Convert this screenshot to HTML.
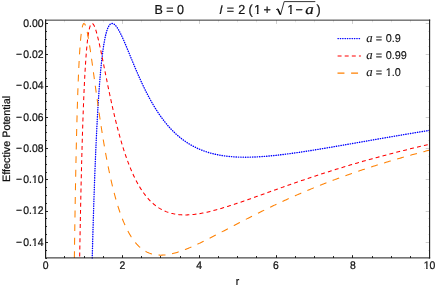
<!DOCTYPE html>
<html><head><meta charset="utf-8"><title>Effective Potential</title>
<style>html,body{margin:0;padding:0;background:#fff}body{width:436px;height:289px;overflow:hidden;font-family:"Liberation Sans",sans-serif}svg{display:block}</style></head>
<body>
<svg width="436" height="289" viewBox="0 0 436 289">
<defs><filter id="gs" x="0" y="0" width="436" height="289" filterUnits="userSpaceOnUse" color-interpolation-filters="sRGB"><feColorMatrix type="matrix" values="1 0 0 0 0 0 1 0 0 0 0 0 1 0 0 0 0 0 1 0"/></filter></defs>
<rect width="436" height="289" fill="#fff"/>
<g fill="none" stroke-linejoin="round">
<path d="M92.23,258.00L92.28,256.15L92.33,254.17L92.38,252.20L92.43,250.24L92.48,248.30L92.54,246.38L92.59,244.46L92.64,242.57L92.69,240.68L92.74,238.81L92.79,236.96L92.85,235.12L92.90,233.29L92.95,231.47L93.00,229.67L93.05,227.88L93.11,226.11L93.16,224.34L93.21,222.60L93.26,220.86L93.31,219.14L93.37,217.43L93.42,215.73L93.47,214.04L93.52,212.37L93.57,210.71L93.62,209.06L93.68,207.43L93.73,205.80L93.78,204.19L93.83,202.59L93.88,201.01L93.94,199.43L93.99,197.87L94.04,196.31L94.09,194.77L94.14,193.25L94.19,191.73L94.25,190.22L94.30,188.73L94.35,187.24L94.40,185.77L94.45,184.31L94.51,182.86L94.56,181.42L94.61,179.99L94.66,178.57L94.71,177.16L94.77,175.77L94.82,174.38L94.87,173.00L94.92,171.64L94.97,170.28L95.02,168.94L95.08,167.60L95.13,166.28L95.18,164.96L95.23,163.66L95.28,162.36L95.34,161.08L95.39,159.80L95.44,158.53L95.49,157.28L95.54,156.03L95.59,154.79L95.65,153.57L95.70,152.35L95.75,151.14L95.80,149.94L95.85,148.75L95.91,147.57L95.96,146.39L96.01,145.23L96.06,144.07L96.11,142.93L96.17,141.79L96.22,140.66L96.27,139.54L96.32,138.43L96.37,137.33L96.42,136.23L96.48,135.15L96.53,134.07L96.58,133.00L96.63,131.94L96.68,130.89L96.74,129.84L96.79,128.81L96.84,127.78L96.89,126.76L96.94,125.74L96.99,124.74L97.07,123.25L97.15,121.77L97.23,120.31L97.31,118.87L97.38,117.45L97.46,116.04L97.54,114.65L97.62,113.28L97.69,111.92L97.77,110.58L97.85,109.25L97.93,107.94L98.01,106.65L98.08,105.37L98.16,104.10L98.24,102.85L98.32,101.62L98.39,100.40L98.47,99.20L98.55,98.01L98.63,96.83L98.71,95.67L98.78,94.52L98.86,93.39L98.94,92.27L99.02,91.16L99.09,90.07L99.17,88.99L99.25,87.93L99.33,86.87L99.41,85.83L99.48,84.81L99.56,83.79L99.64,82.79L99.74,81.47L99.85,80.18L99.95,78.91L100.05,77.65L100.16,76.42L100.26,75.21L100.37,74.02L100.47,72.86L100.57,71.71L100.68,70.58L100.78,69.47L100.88,68.38L100.99,67.30L101.09,66.25L101.20,65.21L101.30,64.20L101.40,63.20L101.53,61.97L101.66,60.78L101.79,59.61L101.92,58.46L102.05,57.34L102.18,56.25L102.31,55.18L102.44,54.14L102.57,53.12L102.70,52.12L102.85,50.96L103.01,49.83L103.17,48.73L103.32,47.66L103.48,46.63L103.63,45.62L103.81,44.49L104.00,43.39L104.18,42.33L104.36,41.32L104.57,40.20L104.77,39.12L104.98,38.10L105.19,37.12L105.42,36.06L105.65,35.06L105.91,34.02L106.17,33.03L106.46,32.01L106.77,30.98L107.11,29.95L107.47,28.95L107.86,27.98L108.27,27.07L108.74,26.19L109.28,25.33L109.93,24.54L110.71,23.89L111.64,23.50L112.65,23.51L113.61,23.87L114.44,24.44L115.20,25.13L115.87,25.88L116.49,26.66L117.09,27.50L117.66,28.36L118.20,29.24L118.72,30.13L119.21,31.01L119.71,31.93L120.17,32.83L120.64,33.75L121.11,34.70L121.55,35.62L121.99,36.55L122.43,37.51L122.84,38.42L123.26,39.34L123.67,40.28L124.09,41.22L124.50,42.18L124.92,43.14L125.33,44.11L125.75,45.09L126.14,46.02L126.53,46.94L126.91,47.88L127.30,48.81L127.69,49.75L128.08,50.69L128.47,51.64L128.86,52.58L129.25,53.53L129.64,54.48L130.03,55.42L130.41,56.37L130.80,57.32L131.19,58.27L131.58,59.21L131.97,60.15L132.36,61.10L132.75,62.04L133.14,62.97L133.53,63.91L133.91,64.84L134.30,65.77L134.69,66.70L135.08,67.62L135.50,68.60L135.91,69.57L136.33,70.55L136.74,71.51L137.16,72.47L137.57,73.43L137.98,74.38L138.40,75.32L138.81,76.26L139.23,77.20L139.64,78.13L140.06,79.05L140.47,79.96L140.91,80.93L141.36,81.89L141.80,82.84L142.24,83.79L142.68,84.72L143.12,85.65L143.56,86.57L144.00,87.49L144.44,88.40L144.88,89.29L145.35,90.24L145.81,91.17L146.28,92.10L146.75,93.02L147.21,93.92L147.68,94.82L148.15,95.71L148.64,96.64L149.13,97.56L149.63,98.47L150.12,99.37L150.61,100.26L151.10,101.14L151.60,102.01L152.11,102.92L152.63,103.82L153.15,104.70L153.67,105.57L154.19,106.44L154.73,107.33L155.28,108.21L155.82,109.08L156.37,109.94L156.91,110.79L157.48,111.67L158.05,112.53L158.62,113.38L159.19,114.22L159.76,115.05L160.36,115.90L161.07,116.89L161.74,117.82L162.41,118.73L163.09,119.63L163.76,120.50L164.43,121.37L165.10,122.21L165.78,123.05L166.45,123.86L167.12,124.67L167.79,125.45L168.46,126.23L169.14,126.99L169.81,127.73L170.62,128.61L171.42,129.46L172.23,130.30L173.04,131.11L173.84,131.91L174.65,132.69L175.46,133.45L176.26,134.20L177.07,134.92L177.88,135.63L178.68,136.32L179.49,137.00L180.30,137.66L181.10,138.30L181.91,138.93L182.72,139.54L183.52,140.14L184.47,140.81L185.41,141.47L186.35,142.11L187.29,142.73L188.23,143.33L189.17,143.91L190.11,144.48L191.06,145.03L192.00,145.56L192.94,146.07L193.88,146.57L194.82,147.05L195.76,147.52L196.70,147.97L197.64,148.41L198.59,148.83L199.53,149.24L200.47,149.64L201.41,150.02L202.35,150.39L203.29,150.74L204.23,151.08L205.31,151.46L206.38,151.82L207.46,152.17L208.54,152.50L209.61,152.82L210.69,153.12L211.76,153.41L212.84,153.68L213.91,153.95L214.99,154.20L216.07,154.43L217.14,154.66L218.22,154.87L219.29,155.08L220.37,155.27L221.44,155.45L222.52,155.62L223.60,155.78L224.67,155.93L225.75,156.07L226.82,156.20L227.90,156.32L228.97,156.43L230.05,156.54L231.13,156.63L232.20,156.72L233.28,156.80L234.35,156.87L235.43,156.93L236.51,156.99L237.58,157.04L238.66,157.08L239.73,157.11L240.81,157.14L241.88,157.16L242.96,157.18L244.04,157.19L245.11,157.19L246.19,157.19L247.26,157.18L248.34,157.17L249.41,157.15L250.49,157.12L251.57,157.10L252.64,157.06L253.72,157.02L254.79,156.98L255.87,156.93L256.94,156.88L258.02,156.82L259.10,156.76L260.17,156.69L261.25,156.62L262.32,156.55L263.40,156.47L264.47,156.39L265.55,156.31L266.63,156.22L267.70,156.13L268.78,156.03L269.85,155.93L270.93,155.83L272.00,155.73L273.08,155.62L274.16,155.51L275.23,155.40L276.31,155.28L277.38,155.17L278.46,155.05L279.53,154.92L280.61,154.80L281.69,154.67L282.76,154.54L283.84,154.41L284.91,154.27L285.99,154.14L287.06,154.00L288.14,153.86L289.22,153.72L290.29,153.57L291.37,153.43L292.44,153.28L293.52,153.13L294.59,152.98L295.67,152.83L296.75,152.67L297.82,152.52L298.90,152.36L299.97,152.20L301.05,152.04L302.13,151.88L303.20,151.72L304.28,151.56L305.35,151.39L306.43,151.23L307.50,151.06L308.58,150.89L309.66,150.73L310.73,150.56L311.81,150.39L312.88,150.21L313.96,150.04L315.03,149.87L316.11,149.69L317.19,149.52L318.26,149.34L319.34,149.17L320.41,148.99L321.49,148.81L322.56,148.63L323.64,148.45L324.72,148.27L325.79,148.09L326.87,147.91L327.94,147.73L329.02,147.55L330.09,147.37L331.17,147.18L332.25,147.00L333.32,146.82L334.40,146.63L335.47,146.45L336.55,146.26L337.62,146.08L338.70,145.89L339.78,145.71L340.85,145.52L341.93,145.34L343.00,145.15L344.08,144.96L345.15,144.78L346.23,144.59L347.31,144.40L348.38,144.22L349.46,144.03L350.53,143.84L351.61,143.65L352.68,143.46L353.76,143.28L354.84,143.09L355.91,142.90L356.99,142.71L358.06,142.52L359.14,142.34L360.21,142.15L361.29,141.96L362.37,141.77L363.44,141.58L364.52,141.40L365.59,141.21L366.67,141.02L367.75,140.83L368.82,140.64L369.90,140.46L370.97,140.27L372.05,140.08L373.12,139.89L374.20,139.71L375.28,139.52L376.35,139.33L377.43,139.14L378.50,138.96L379.58,138.77L380.65,138.58L381.73,138.40L382.81,138.21L383.88,138.02L384.96,137.84L386.03,137.65L387.11,137.47L388.18,137.28L389.26,137.10L390.34,136.91L391.41,136.73L392.49,136.54L393.56,136.36L394.64,136.18L395.71,135.99L396.79,135.81L397.87,135.63L398.94,135.44L400.02,135.26L401.09,135.08L402.17,134.90L403.24,134.71L404.32,134.53L405.40,134.35L406.47,134.17L407.55,133.99L408.62,133.81L409.70,133.63L410.77,133.45L411.85,133.27L412.93,133.09L414.00,132.91L415.08,132.73L416.15,132.55L417.23,132.38L418.30,132.20L419.38,132.02L420.46,131.84L421.53,131.67L422.61,131.49L423.68,131.31L424.76,131.14L425.83,130.96L426.91,130.79L427.99,130.61L429.06,130.44L429.60,130.35" stroke="#0000ff" stroke-width="1.38" stroke-dasharray="0.35 2.0" stroke-dashoffset="0" stroke-linecap="round"/>
<path d="M79.65,258.00L79.68,256.38L79.70,254.87L79.73,253.38L79.75,251.89L79.78,250.42L79.81,248.94L79.83,247.48L79.86,246.03L79.88,244.58L79.91,243.14L79.94,241.71L79.96,240.29L79.99,238.87L80.01,237.46L80.04,236.06L80.06,234.67L80.09,233.28L80.12,231.90L80.14,230.53L80.17,229.17L80.19,227.81L80.22,226.47L80.25,225.12L80.27,223.79L80.30,222.46L80.32,221.14L80.35,219.83L80.38,218.53L80.40,217.23L80.43,215.94L80.45,214.65L80.48,213.38L80.51,212.11L80.53,210.84L80.56,209.59L80.58,208.34L80.61,207.09L80.64,205.86L80.66,204.63L80.69,203.41L80.71,202.19L80.74,200.98L80.76,199.78L80.79,198.58L80.82,197.39L80.84,196.21L80.87,195.03L80.89,193.86L80.92,192.70L80.95,191.54L80.97,190.39L81.00,189.25L81.02,188.11L81.05,186.98L81.08,185.85L81.10,184.73L81.13,183.62L81.15,182.51L81.18,181.41L81.21,180.32L81.23,179.23L81.26,178.15L81.28,177.07L81.31,176.00L81.34,174.93L81.36,173.87L81.39,172.82L81.41,171.77L81.44,170.73L81.46,169.70L81.49,168.67L81.52,167.64L81.54,166.63L81.57,165.61L81.59,164.61L81.62,163.60L81.67,161.62L81.72,159.66L81.78,157.71L81.83,155.79L81.88,153.90L81.93,152.02L81.98,150.16L82.04,148.33L82.09,146.51L82.14,144.72L82.19,142.95L82.24,141.19L82.29,139.46L82.35,137.75L82.40,136.05L82.45,134.38L82.50,132.72L82.55,131.09L82.61,129.47L82.66,127.87L82.71,126.29L82.76,124.73L82.81,123.18L82.86,121.66L82.92,120.15L82.97,118.66L83.02,117.19L83.07,115.73L83.12,114.29L83.18,112.87L83.23,111.46L83.28,110.08L83.33,108.70L83.38,107.35L83.44,106.01L83.49,104.68L83.54,103.38L83.59,102.08L83.64,100.81L83.69,99.55L83.75,98.30L83.80,97.07L83.85,95.85L83.90,94.65L83.95,93.46L84.01,92.29L84.06,91.14L84.11,89.99L84.16,88.86L84.21,87.75L84.27,86.65L84.32,85.56L84.37,84.48L84.42,83.42L84.47,82.38L84.52,81.34L84.58,80.32L84.63,79.31L84.71,77.82L84.78,76.36L84.86,74.93L84.94,73.53L85.02,72.15L85.09,70.80L85.17,69.48L85.25,68.18L85.33,66.91L85.41,65.66L85.48,64.44L85.56,63.24L85.64,62.07L85.72,60.92L85.79,59.80L85.87,58.70L85.95,57.62L86.03,56.56L86.11,55.53L86.18,54.52L86.29,53.20L86.39,51.93L86.49,50.69L86.60,49.48L86.70,48.32L86.81,47.18L86.91,46.09L87.01,45.02L87.12,43.99L87.22,42.99L87.35,41.79L87.48,40.63L87.61,39.52L87.74,38.46L87.87,37.45L88.02,36.29L88.18,35.19L88.34,34.15L88.52,33.01L88.70,31.95L88.88,30.96L89.09,29.92L89.32,28.86L89.58,27.81L89.87,26.80L90.20,25.80L90.62,24.83L91.16,23.97L92.04,23.45L92.95,23.89L93.57,24.69L94.07,25.56L94.51,26.51L94.89,27.47L95.26,28.45L95.59,29.44L95.91,30.41L96.22,31.44L96.50,32.42L96.79,33.44L97.07,34.50L97.33,35.49L97.59,36.51L97.85,37.55L98.11,38.61L98.34,39.59L98.58,40.58L98.81,41.59L99.04,42.61L99.28,43.65L99.51,44.70L99.74,45.76L99.98,46.84L100.21,47.92L100.44,49.01L100.65,49.99L100.86,50.98L101.07,51.97L101.27,52.97L101.48,53.97L101.69,54.97L101.90,55.99L102.10,57.00L102.31,58.02L102.52,59.04L102.72,60.07L102.93,61.09L103.14,62.12L103.35,63.15L103.55,64.19L103.76,65.22L103.97,66.25L104.18,67.29L104.38,68.33L104.59,69.36L104.80,70.40L105.01,71.43L105.21,72.47L105.42,73.50L105.63,74.54L105.84,75.57L106.04,76.60L106.25,77.63L106.46,78.66L106.67,79.68L106.87,80.70L107.08,81.73L107.29,82.74L107.50,83.76L107.70,84.77L107.91,85.79L108.12,86.79L108.32,87.80L108.53,88.80L108.74,89.80L108.95,90.79L109.15,91.78L109.36,92.77L109.57,93.76L109.78,94.74L110.01,95.83L110.24,96.93L110.48,98.02L110.71,99.10L110.94,100.18L111.18,101.25L111.41,102.31L111.64,103.37L111.88,104.43L112.11,105.48L112.34,106.52L112.58,107.56L112.81,108.59L113.04,109.62L113.28,110.64L113.51,111.65L113.74,112.66L113.98,113.66L114.21,114.65L114.44,115.64L114.68,116.62L114.91,117.60L115.17,118.67L115.43,119.74L115.69,120.80L115.95,121.85L116.21,122.90L116.47,123.93L116.72,124.96L116.98,125.98L117.24,127.00L117.50,128.00L117.76,129.00L118.02,129.98L118.28,130.96L118.54,131.94L118.83,133.00L119.11,134.05L119.40,135.09L119.68,136.12L119.97,137.14L120.25,138.15L120.54,139.15L120.82,140.14L121.11,141.12L121.39,142.10L121.68,143.06L121.99,144.10L122.30,145.13L122.61,146.15L122.92,147.16L123.23,148.15L123.54,149.14L123.85,150.11L124.17,151.07L124.48,152.02L124.81,153.04L125.15,154.05L125.49,155.05L125.83,156.03L126.16,157.00L126.50,157.96L126.84,158.90L127.20,159.91L127.56,160.90L127.93,161.88L128.29,162.84L128.65,163.79L129.01,164.73L129.40,165.72L129.79,166.70L130.18,167.66L130.57,168.60L130.96,169.53L131.37,170.51L131.79,171.48L132.20,172.42L132.62,173.35L133.03,174.27L133.47,175.22L133.91,176.16L134.35,177.08L134.80,177.99L135.26,178.93L135.73,179.85L136.20,180.76L136.66,181.64L137.16,182.56L137.65,183.46L138.14,184.34L138.66,185.25L139.18,186.13L139.70,187.00L140.24,187.89L140.78,188.76L141.33,189.61L141.90,190.47L142.47,191.32L143.04,192.14L143.64,192.98L144.23,193.79L144.86,194.62L145.48,195.43L146.13,196.24L146.77,197.03L147.42,197.79L148.10,198.56L148.77,199.31L149.47,200.06L150.17,200.78L150.90,201.51L151.62,202.21L152.37,202.90L153.13,203.57L153.90,204.24L154.68,204.88L155.49,205.51L156.29,206.12L157.12,206.72L157.95,207.29L158.80,207.85L159.66,208.38L160.54,208.90L161.47,209.42L162.41,209.92L163.35,210.39L164.30,210.83L165.24,211.24L166.18,211.63L167.12,211.99L168.20,212.37L169.27,212.72L170.35,213.04L171.42,213.33L172.50,213.59L173.57,213.83L174.65,214.04L175.73,214.23L176.80,214.39L177.88,214.53L178.95,214.65L180.03,214.75L181.10,214.82L182.18,214.88L183.26,214.92L184.33,214.94L185.41,214.94L186.48,214.92L187.56,214.89L188.63,214.85L189.71,214.79L190.79,214.71L191.86,214.62L192.94,214.52L194.01,214.40L195.09,214.27L196.16,214.13L197.24,213.98L198.32,213.82L199.39,213.64L200.47,213.46L201.54,213.27L202.62,213.06L203.70,212.85L204.77,212.63L205.85,212.40L206.92,212.17L208.00,211.92L209.07,211.67L210.15,211.41L211.23,211.15L212.30,210.88L213.38,210.60L214.45,210.31L215.53,210.03L216.60,209.73L217.68,209.43L218.76,209.13L219.83,208.82L220.91,208.50L221.98,208.18L223.06,207.86L224.13,207.53L225.21,207.20L226.29,206.87L227.36,206.53L228.44,206.19L229.51,205.85L230.59,205.50L231.66,205.15L232.74,204.80L233.82,204.44L234.89,204.08L235.97,203.72L237.04,203.36L238.12,203.00L239.19,202.63L240.27,202.26L241.35,201.89L242.42,201.52L243.50,201.15L244.57,200.78L245.65,200.40L246.72,200.03L247.80,199.65L248.88,199.27L249.95,198.89L251.03,198.51L252.10,198.13L253.18,197.75L254.25,197.36L255.33,196.98L256.41,196.60L257.48,196.21L258.56,195.83L259.63,195.44L260.71,195.06L261.78,194.67L262.86,194.29L263.94,193.90L265.01,193.52L266.09,193.13L267.16,192.74L268.24,192.36L269.32,191.97L270.39,191.59L271.47,191.20L272.54,190.82L273.62,190.43L274.69,190.05L275.77,189.66L276.85,189.28L277.92,188.90L279.00,188.51L280.07,188.13L281.15,187.75L282.22,187.37L283.30,186.99L284.38,186.61L285.45,186.23L286.53,185.85L287.60,185.47L288.68,185.09L289.75,184.72L290.83,184.34L291.91,183.97L292.98,183.59L294.06,183.22L295.13,182.84L296.21,182.47L297.28,182.10L298.36,181.73L299.44,181.36L300.51,180.99L301.59,180.62L302.66,180.26L303.74,179.89L304.81,179.52L305.89,179.16L306.97,178.80L308.04,178.43L309.12,178.07L310.19,177.71L311.27,177.35L312.34,176.99L313.42,176.64L314.50,176.28L315.57,175.92L316.65,175.57L317.72,175.22L318.80,174.86L319.87,174.51L320.95,174.16L322.03,173.81L323.10,173.47L324.18,173.12L325.25,172.77L326.33,172.43L327.40,172.08L328.48,171.74L329.56,171.40L330.63,171.06L331.71,170.72L332.78,170.38L333.86,170.04L334.94,169.71L336.01,169.37L337.09,169.04L338.16,168.70L339.24,168.37L340.31,168.04L341.39,167.71L342.47,167.38L343.54,167.06L344.62,166.73L345.69,166.40L346.77,166.08L347.84,165.76L348.92,165.44L350.00,165.11L351.07,164.80L352.15,164.48L353.22,164.16L354.30,163.84L355.37,163.53L356.45,163.21L357.53,162.90L358.60,162.59L359.68,162.28L360.75,161.97L361.83,161.66L362.90,161.35L363.98,161.04L365.06,160.74L366.13,160.43L367.21,160.13L368.28,159.83L369.36,159.53L370.43,159.23L371.51,158.93L372.59,158.63L373.66,158.33L374.74,158.04L375.81,157.74L376.89,157.45L377.96,157.16L379.04,156.87L380.12,156.57L381.19,156.29L382.27,156.00L383.34,155.71L384.42,155.42L385.49,155.14L386.57,154.85L387.65,154.57L388.72,154.29L389.80,154.01L390.87,153.73L391.95,153.45L393.02,153.17L394.10,152.89L395.18,152.62L396.25,152.34L397.33,152.07L398.40,151.79L399.48,151.52L400.56,151.25L401.63,150.98L402.71,150.71L403.78,150.44L404.86,150.18L405.93,149.91L407.01,149.64L408.09,149.38L409.16,149.12L410.24,148.85L411.31,148.59L412.39,148.33L413.46,148.07L414.54,147.81L415.62,147.56L416.69,147.30L417.77,147.04L418.84,146.79L419.92,146.54L420.99,146.28L422.07,146.03L423.15,145.78L424.22,145.53L425.30,145.28L426.37,145.03L427.45,144.78L428.52,144.54L429.60,144.29" stroke="#ff0000" stroke-width="1.05" stroke-dasharray="3.95 3.16" stroke-dashoffset="-1.5" stroke-linecap="butt"/>
<path d="M74.36,258.00L74.39,256.09L74.41,254.22L74.44,252.35L74.46,250.50L74.49,248.66L74.52,246.83L74.54,245.01L74.57,243.21L74.59,241.42L74.62,239.64L74.65,237.87L74.67,236.11L74.70,234.37L74.72,232.63L74.75,230.91L74.78,229.20L74.80,227.50L74.83,225.81L74.85,224.13L74.88,222.47L74.91,220.81L74.93,219.17L74.96,217.54L74.98,215.92L75.01,214.31L75.04,212.71L75.06,211.12L75.09,209.54L75.11,207.97L75.14,206.41L75.16,204.86L75.19,203.33L75.22,201.80L75.24,200.28L75.27,198.78L75.29,197.28L75.32,195.80L75.35,194.32L75.37,192.86L75.40,191.40L75.42,189.95L75.45,188.52L75.48,187.09L75.50,185.68L75.53,184.27L75.55,182.87L75.58,181.48L75.61,180.10L75.63,178.74L75.66,177.38L75.68,176.03L75.71,174.68L75.74,173.35L75.76,172.03L75.79,170.72L75.81,169.41L75.84,168.12L75.86,166.83L75.89,165.55L75.92,164.28L75.94,163.02L75.97,161.77L75.99,160.53L76.02,159.29L76.05,158.07L76.07,156.85L76.10,155.64L76.12,154.44L76.15,153.25L76.18,152.06L76.20,150.89L76.23,149.72L76.25,148.56L76.28,147.41L76.31,146.27L76.33,145.13L76.36,144.01L76.38,142.89L76.41,141.78L76.44,140.67L76.46,139.58L76.49,138.49L76.51,137.41L76.54,136.34L76.56,135.27L76.59,134.22L76.62,133.17L76.64,132.13L76.67,131.09L76.69,130.06L76.72,129.05L76.75,128.03L76.77,127.03L76.82,125.04L76.88,123.08L76.93,121.15L76.98,119.24L77.03,117.37L77.08,115.52L77.14,113.70L77.19,111.90L77.24,110.13L77.29,108.39L77.34,106.67L77.39,104.98L77.45,103.31L77.50,101.67L77.55,100.06L77.60,98.46L77.65,96.89L77.71,95.35L77.76,93.83L77.81,92.33L77.86,90.86L77.91,89.40L77.96,87.97L78.02,86.57L78.07,85.18L78.12,83.82L78.17,82.47L78.22,81.15L78.28,79.85L78.33,78.57L78.38,77.31L78.43,76.07L78.48,74.85L78.54,73.65L78.59,72.47L78.64,71.31L78.69,70.17L78.74,69.05L78.79,67.94L78.85,66.86L78.90,65.79L78.95,64.74L79.00,63.71L79.05,62.69L79.13,61.21L79.21,59.76L79.29,58.34L79.36,56.97L79.44,55.63L79.52,54.33L79.60,53.06L79.68,51.83L79.75,50.63L79.83,49.47L79.91,48.33L79.99,47.23L80.06,46.17L80.14,45.13L80.22,44.12L80.32,42.83L80.43,41.59L80.53,40.40L80.64,39.26L80.74,38.17L80.84,37.13L80.95,36.13L81.08,34.95L81.21,33.84L81.34,32.79L81.49,31.63L81.65,30.55L81.83,29.41L82.01,28.38L82.22,27.34L82.45,26.33L82.74,25.33L83.10,24.38L83.69,23.55L84.65,23.88L85.17,24.78L85.56,25.74L85.90,26.76L86.18,27.73L86.44,28.71L86.70,29.77L86.94,30.78L87.17,31.85L87.38,32.84L87.58,33.87L87.79,34.94L88.00,36.05L88.18,37.04L88.36,38.06L88.54,39.10L88.72,40.16L88.91,41.25L89.09,42.35L89.27,43.47L89.45,44.61L89.61,45.60L89.76,46.60L89.92,47.61L90.07,48.63L90.23,49.66L90.38,50.70L90.54,51.75L90.69,52.80L90.85,53.87L91.01,54.94L91.16,56.02L91.32,57.10L91.47,58.19L91.63,59.29L91.78,60.39L91.94,61.49L92.09,62.60L92.25,63.72L92.41,64.83L92.56,65.96L92.72,67.08L92.87,68.21L93.03,69.33L93.18,70.46L93.34,71.60L93.49,72.73L93.65,73.87L93.81,75.00L93.96,76.14L94.12,77.28L94.27,78.41L94.43,79.55L94.58,80.69L94.74,81.83L94.89,82.96L95.05,84.10L95.21,85.23L95.36,86.37L95.52,87.50L95.67,88.63L95.83,89.76L95.98,90.88L96.14,92.01L96.29,93.13L96.45,94.25L96.61,95.37L96.76,96.49L96.92,97.60L97.07,98.71L97.23,99.82L97.38,100.92L97.54,102.02L97.69,103.12L97.85,104.22L98.01,105.31L98.16,106.39L98.32,107.48L98.47,108.56L98.63,109.64L98.78,110.71L98.94,111.78L99.09,112.84L99.25,113.90L99.41,114.96L99.56,116.01L99.72,117.06L99.87,118.10L100.03,119.14L100.18,120.18L100.34,121.21L100.50,122.23L100.65,123.25L100.81,124.27L100.96,125.28L101.12,126.29L101.27,127.29L101.43,128.29L101.58,129.28L101.74,130.27L101.92,131.41L102.10,132.55L102.28,133.69L102.47,134.81L102.65,135.93L102.83,137.05L103.01,138.15L103.19,139.25L103.37,140.34L103.55,141.43L103.74,142.50L103.92,143.58L104.10,144.64L104.28,145.70L104.46,146.75L104.64,147.79L104.82,148.83L105.01,149.86L105.19,150.88L105.37,151.89L105.55,152.90L105.73,153.90L105.91,154.90L106.10,155.88L106.30,157.00L106.51,158.11L106.72,159.22L106.92,160.31L107.13,161.39L107.34,162.47L107.55,163.53L107.75,164.59L107.96,165.63L108.17,166.67L108.38,167.70L108.58,168.72L108.79,169.73L109.00,170.74L109.21,171.73L109.41,172.72L109.65,173.81L109.88,174.90L110.11,175.98L110.35,177.04L110.58,178.10L110.81,179.14L111.05,180.17L111.28,181.20L111.51,182.21L111.75,183.21L111.98,184.20L112.21,185.18L112.47,186.26L112.73,187.33L112.99,188.38L113.25,189.42L113.51,190.45L113.77,191.46L114.03,192.47L114.29,193.46L114.55,194.44L114.81,195.40L115.09,196.45L115.38,197.49L115.66,198.51L115.95,199.52L116.23,200.52L116.52,201.50L116.80,202.47L117.11,203.51L117.42,204.54L117.74,205.55L118.05,206.54L118.36,207.52L118.67,208.49L119.01,209.51L119.34,210.53L119.68,211.52L120.02,212.50L120.35,213.46L120.69,214.40L121.05,215.40L121.42,216.38L121.78,217.35L122.14,218.29L122.53,219.29L122.92,220.26L123.31,221.21L123.70,222.15L124.11,223.12L124.53,224.08L124.94,225.01L125.36,225.92L125.80,226.87L126.24,227.80L126.68,228.70L127.15,229.63L127.61,230.54L128.08,231.42L128.57,232.33L129.07,233.22L129.58,234.12L130.10,235.00L130.65,235.89L131.19,236.76L131.76,237.63L132.33,238.48L132.93,239.34L133.53,240.16L134.15,240.99L134.77,241.79L135.42,242.58L136.07,243.35L136.74,244.11L137.44,244.86L138.14,245.58L138.87,246.30L139.62,247.00L140.37,247.66L141.15,248.31L141.95,248.94L142.78,249.55L143.61,250.12L144.47,250.67L145.35,251.20L146.23,251.69L147.14,252.15L148.04,252.57L148.98,252.97L149.94,253.34L150.90,253.66L151.86,253.96L152.84,254.22L153.83,254.45L154.81,254.64L155.82,254.80L156.83,254.94L157.84,255.03L158.86,255.10L159.87,255.14L160.93,255.15L162.01,255.13L163.09,255.09L164.16,255.01L165.24,254.91L166.31,254.79L167.39,254.64L168.46,254.46L169.54,254.27L170.62,254.05L171.69,253.82L172.77,253.57L173.84,253.30L174.92,253.01L175.99,252.70L177.07,252.38L178.15,252.05L179.22,251.70L180.30,251.34L181.37,250.96L182.31,250.62L183.26,250.28L184.20,249.92L185.14,249.56L186.08,249.19L187.02,248.81L187.96,248.43L188.90,248.03L189.84,247.63L190.79,247.23L191.73,246.82L192.67,246.40L193.61,245.98L194.55,245.56L195.49,245.13L196.43,244.69L197.38,244.25L198.32,243.81L199.26,243.36L200.20,242.91L201.14,242.45L202.08,242.00L203.02,241.53L203.96,241.07L204.91,240.60L205.85,240.13L206.79,239.66L207.73,239.19L208.67,238.71L209.61,238.23L210.55,237.76L211.49,237.27L212.44,236.79L213.38,236.31L214.32,235.82L215.26,235.33L216.20,234.84L217.14,234.36L218.08,233.86L219.02,233.37L219.97,232.88L220.91,232.39L221.85,231.90L222.79,231.40L223.73,230.91L224.67,230.42L225.61,229.92L226.55,229.43L227.50,228.93L228.44,228.44L229.38,227.95L230.32,227.45L231.26,226.96L232.20,226.46L233.14,225.97L234.08,225.48L235.03,224.99L235.97,224.49L236.91,224.00L237.85,223.51L238.79,223.02L239.73,222.53L240.67,222.04L241.61,221.55L242.56,221.07L243.50,220.58L244.44,220.10L245.38,219.61L246.32,219.13L247.26,218.64L248.20,218.16L249.14,217.68L250.09,217.20L251.03,216.72L251.97,216.24L252.91,215.77L253.85,215.29L254.79,214.82L255.73,214.34L256.68,213.87L257.62,213.40L258.56,212.93L259.50,212.46L260.44,212.00L261.38,211.53L262.32,211.07L263.26,210.60L264.21,210.14L265.15,209.68L266.09,209.22L267.03,208.76L267.97,208.31L268.91,207.85L269.85,207.40L270.79,206.94L271.74,206.49L272.68,206.04L273.62,205.60L274.56,205.15L275.50,204.70L276.44,204.26L277.38,203.82L278.32,203.38L279.27,202.94L280.21,202.50L281.15,202.06L282.09,201.63L283.03,201.20L283.97,200.76L284.91,200.33L285.85,199.90L286.80,199.48L287.74,199.05L288.68,198.63L289.62,198.20L290.56,197.78L291.50,197.36L292.44,196.94L293.38,196.53L294.33,196.11L295.27,195.70L296.21,195.28L297.15,194.87L298.09,194.46L299.03,194.05L299.97,193.65L300.91,193.24L301.86,192.84L302.80,192.44L303.74,192.04L304.68,191.64L305.62,191.24L306.56,190.84L307.50,190.45L308.45,190.06L309.39,189.66L310.33,189.27L311.27,188.88L312.21,188.50L313.15,188.11L314.09,187.73L315.03,187.34L315.98,186.96L316.92,186.58L317.86,186.20L318.80,185.83L319.74,185.45L320.68,185.08L321.62,184.70L322.56,184.33L323.51,183.96L324.45,183.59L325.39,183.23L326.33,182.86L327.27,182.50L328.21,182.13L329.15,181.77L330.09,181.41L331.04,181.05L331.98,180.69L332.92,180.34L333.86,179.98L334.80,179.63L335.74,179.28L336.68,178.93L337.62,178.58L338.57,178.23L339.51,177.88L340.45,177.54L341.39,177.20L342.33,176.85L343.27,176.51L344.21,176.17L345.15,175.83L346.23,175.45L347.31,175.06L348.38,174.68L349.46,174.30L350.53,173.92L351.61,173.55L352.68,173.17L353.76,172.80L354.84,172.42L355.91,172.05L356.99,171.68L358.06,171.32L359.14,170.95L360.21,170.59L361.29,170.23L362.37,169.86L363.44,169.51L364.52,169.15L365.59,168.79L366.67,168.44L367.75,168.08L368.82,167.73L369.90,167.38L370.97,167.03L372.05,166.69L373.12,166.34L374.20,166.00L375.28,165.66L376.35,165.31L377.43,164.98L378.50,164.64L379.58,164.30L380.65,163.97L381.73,163.63L382.81,163.30L383.88,162.97L384.96,162.64L386.03,162.31L387.11,161.99L388.18,161.66L389.26,161.34L390.34,161.01L391.41,160.69L392.49,160.37L393.56,160.06L394.64,159.74L395.71,159.42L396.79,159.11L397.87,158.80L398.94,158.48L400.02,158.17L401.09,157.87L402.17,157.56L403.24,157.25L404.32,156.95L405.40,156.64L406.47,156.34L407.55,156.04L408.62,155.74L409.70,155.44L410.77,155.14L411.85,154.85L412.93,154.55L414.00,154.26L415.08,153.97L416.15,153.67L417.23,153.38L418.30,153.10L419.38,152.81L420.46,152.52L421.53,152.24L422.61,151.95L423.68,151.67L424.76,151.39L425.83,151.11L426.91,150.83L427.99,150.55L429.06,150.27L429.60,150.13" stroke="#ff8000" stroke-width="1.05" stroke-dasharray="6.95 6.65" stroke-dashoffset="0.3" stroke-linecap="butt"/>
</g>
<path d="M64.5,258.0V256.1M84.5,258.0V256.1M103.5,258.0V256.1M122.5,258.0V255.2M141.5,258.0V256.1M160.5,258.0V256.1M180.5,258.0V256.1M199.5,258.0V255.2M218.5,258.0V256.1M237.5,258.0V256.1M256.5,258.0V256.1M276.5,258.0V255.2M295.5,258.0V256.1M314.5,258.0V256.1M333.5,258.0V256.1M352.5,258.0V255.2M372.5,258.0V256.1M391.5,258.0V256.1M410.5,258.0V256.1M45.6,23.5H47.95M45.6,31.5H46.95M45.6,39.5H46.95M45.6,46.5H46.95M45.6,54.5H47.95M45.6,62.5H46.95M45.6,70.5H46.95M45.6,78.5H46.95M45.6,86.5H47.95M45.6,93.5H46.95M45.6,101.5H46.95M45.6,109.5H46.95M45.6,117.5H47.95M45.6,125.5H46.95M45.6,132.5H46.95M45.6,140.5H46.95M45.6,148.5H47.95M45.6,156.5H46.95M45.6,164.5H46.95M45.6,172.5H46.95M45.6,179.5H47.95M45.6,187.5H46.95M45.6,195.5H46.95M45.6,203.5H46.95M45.6,211.5H47.95M45.6,218.5H46.95M45.6,226.5H46.95M45.6,234.5H46.95M45.6,242.5H47.95M45.6,250.5H46.95M45.6,258.5H46.95" stroke="#1c1c1c" stroke-width="1" fill="none"/>
<path d="M122.5,20.1V23.9M199.5,20.1V23.9M276.5,20.1V23.9M352.5,20.1V23.9M429.6,23.5H425.7M429.6,54.5H425.7M429.6,86.5H425.7M429.6,117.5H425.7M429.6,148.5H425.7M429.6,179.5H425.7M429.6,211.5H425.7M429.6,242.5H425.7" stroke="#cfcfcf" stroke-width="1" fill="none"/>
<path d="M64.5,20.1V22.3M84.5,20.1V22.3M103.5,20.1V22.3M141.5,20.1V22.3M160.5,20.1V22.3M180.5,20.1V22.3M218.5,20.1V22.3M237.5,20.1V22.3M256.5,20.1V22.3M295.5,20.1V22.3M314.5,20.1V22.3M333.5,20.1V22.3M372.5,20.1V22.3M391.5,20.1V22.3M410.5,20.1V22.3M429.6,31.5H428.0M429.6,39.5H428.0M429.6,46.5H428.0M429.6,62.5H428.0M429.6,70.5H428.0M429.6,78.5H428.0M429.6,93.5H428.0M429.6,101.5H428.0M429.6,109.5H428.0M429.6,125.5H428.0M429.6,132.5H428.0M429.6,140.5H428.0M429.6,156.5H428.0M429.6,164.5H428.0M429.6,172.5H428.0M429.6,187.5H428.0M429.6,195.5H428.0M429.6,203.5H428.0M429.6,218.5H428.0M429.6,226.5H428.0M429.6,234.5H428.0M429.6,250.5H428.0M429.6,258.5H428.0" stroke="#e4e4e4" stroke-width="1" fill="none"/>
<path d="M45.0,20.150000000000002H430.20000000000005" stroke="#1c1c1c" stroke-width="0.9" fill="none"/>
<path d="M45.0,257.9H430.20000000000005" stroke="#1c1c1c" stroke-width="1.0" fill="none"/>
<path d="M45.6,19.6V258.4" stroke="#1c1c1c" stroke-width="1.2" fill="none"/>
<path d="M429.6,19.6V258.4" stroke="#1c1c1c" stroke-width="1.12" fill="none"/>
<g fill="none">
<path d="M338.0,38.6H360.4" stroke="#0000ff" stroke-width="1.38" stroke-dasharray="0.35 2.0" stroke-dashoffset="0" stroke-linecap="round"/>
<path d="M337.6,55.9H360.9" stroke="#ff0000" stroke-width="1.05" stroke-dasharray="3.95 3.16" stroke-dashoffset="0" stroke-linecap="butt"/>
<path d="M337.5,73.1H360.9" stroke="#ff8000" stroke-width="1.05" stroke-dasharray="6.95 6.65" stroke-dashoffset="0" stroke-linecap="butt"/>
</g>
<path d="M276.1,9.7L277.7,8.8L280.5,14.9L284.2,1.6H315.3" fill="none" stroke="#111" stroke-width="0.85"/>
<path d="M277.7,9.2L280.3,14.4" fill="none" stroke="#111" stroke-width="1.6"/>
<g filter="url(#gs)" text-rendering="geometricPrecision" stroke="#111" stroke-width="0.22" font-family="Liberation Sans, sans-serif" fill="#111">
<g font-size="10.4">
<text transform="translate(43.50 26.70) scale(1 1.06)" text-anchor="end">0.00</text>
<text transform="translate(43.50 57.98) scale(1 1.06)" text-anchor="end">−<tspan dx="1.3">0.02</tspan></text>
<text transform="translate(43.50 89.26) scale(1 1.06)" text-anchor="end">−<tspan dx="1.3">0.04</tspan></text>
<text transform="translate(43.50 120.54) scale(1 1.06)" text-anchor="end">−<tspan dx="1.3">0.06</tspan></text>
<text transform="translate(43.50 151.82) scale(1 1.06)" text-anchor="end">−<tspan dx="1.3">0.08</tspan></text>
<text transform="translate(43.50 183.10) scale(1 1.06)" text-anchor="end">−<tspan dx="1.3">0.10</tspan></text>
<text transform="translate(43.50 214.38) scale(1 1.06)" text-anchor="end">−<tspan dx="1.3">0.12</tspan></text>
<text transform="translate(43.50 245.66) scale(1 1.06)" text-anchor="end">−<tspan dx="1.3">0.14</tspan></text>
<text transform="translate(45.60 268.90) scale(1 1.06)" text-anchor="middle">0</text>
<text transform="translate(122.40 268.90) scale(1 1.06)" text-anchor="middle">2</text>
<text transform="translate(199.20 268.90) scale(1 1.06)" text-anchor="middle">4</text>
<text transform="translate(276.00 268.90) scale(1 1.06)" text-anchor="middle">6</text>
<text transform="translate(352.80 268.90) scale(1 1.06)" text-anchor="middle">8</text>
<text transform="translate(429.60 268.90) scale(1 1.06)" text-anchor="middle">10</text>
<text transform="translate(237.40 284.60) scale(1 1.06)" text-anchor="middle">r</text>
<text transform="translate(9.8,138.9) rotate(-90) scale(1.037,1.03)" text-anchor="middle">Effective Potential</text>
</g>
<g font-size="10.9" stroke-width="0.1">
<text x="366.20" y="41.70" font-family="Liberation Serif, serif" font-style="italic" font-size="12.8">a</text>
<text x="375.87" y="41.70">=</text>
<text transform="translate(385.67 41.70) scale(1 1.04)">0.9</text>
<text x="366.20" y="58.90" font-family="Liberation Serif, serif" font-style="italic" font-size="12.8">a</text>
<text x="375.87" y="58.90">=</text>
<text transform="translate(385.67 58.90) scale(1 1.04)">0.99</text>
<text x="366.20" y="76.20" font-family="Liberation Serif, serif" font-style="italic" font-size="12.8">a</text>
<text x="375.87" y="76.20">=</text>
<text transform="translate(385.67 76.20) scale(1 1.04)">1.0</text>
</g>
<g font-size="12.5">
<text transform="translate(154.50 13.80) scale(1 1.04)">B = 0</text>
<text transform="translate(219.60 13.80) scale(1 0.95)" font-style="italic">l</text>
<text transform="translate(226.69 13.80) scale(1 1.04)">=</text>
<text transform="translate(238.28 13.80) scale(1 1.04)">2</text>
<text transform="translate(248.62 13.80) scale(1 1.04)">(</text>
<text transform="translate(254.00 13.80) scale(1 1.04)">1</text>
<text transform="translate(263.59 13.80) scale(1 1.04)">+</text>
<text transform="translate(287.15 13.80) scale(1 1.04)">1</text>
<text transform="translate(295.49 13.80) scale(1 1.04)">−</text>
<text transform="translate(316.53 13.80) scale(1 1.04)">)</text>
<text transform="translate(305.3,13.8) scale(1.2,1.03)" font-family="Liberation Serif, serif" font-style="italic" font-size="14.2">a</text>
</g>
</g>
<g fill="#fff"><rect x="32.35" y="181.92" width="1.89" height="1.58"/><rect x="35.77" y="181.92" width="2.09" height="1.58"/><rect x="32.35" y="213.20" width="1.89" height="1.58"/><rect x="35.77" y="213.20" width="2.09" height="1.58"/><rect x="32.35" y="244.48" width="1.89" height="1.58"/><rect x="35.77" y="244.48" width="2.09" height="1.58"/><rect x="424.23" y="267.72" width="1.89" height="1.58"/><rect x="427.65" y="267.72" width="2.09" height="1.58"/><rect x="386.11" y="75.00" width="2.00" height="1.60"/><rect x="389.68" y="75.00" width="2.21" height="1.60"/><rect x="254.50" y="12.47" width="2.34" height="1.73"/><rect x="258.55" y="12.47" width="2.57" height="1.73"/><rect x="287.65" y="12.47" width="2.34" height="1.73"/><rect x="291.70" y="12.47" width="2.57" height="1.73"/></g>
</svg>
</body></html>
